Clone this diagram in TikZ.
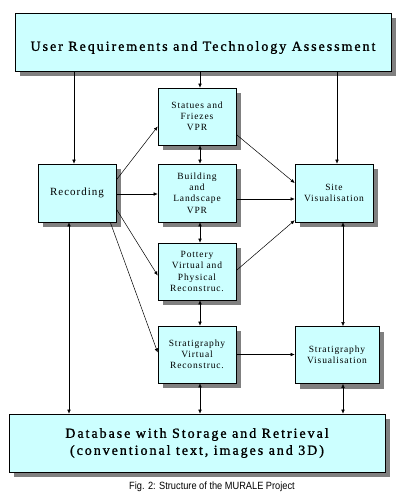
\documentclass[tikz,border=0pt]{standalone}
\usepackage{fontspec}
\setmainfont{Liberation Serif}
\newfontfamily\boxfont[LetterSpace=9]{Liberation Serif}
\newfontfamily\titlefont[LetterSpace=14, FakeBold=1.2]{Liberation Serif}
\newfontfamily\capfont{Liberation Sans}
\usepackage{tikz}
\usetikzlibrary{arrows.meta, positioning, calc, shadows}
\definecolor{boxcyan}{RGB}{204,255,255}
\definecolor{shadowgray}{RGB}{128,128,128}

\begin{document}
\begin{tikzpicture}[x=1pt, y=-1pt,
    box/.style={draw, fill=boxcyan, line width=0.6pt, align=center,
      drop shadow={shadow xshift=5pt, shadow yshift=-5pt, fill=shadowgray, opacity=1},
      font=\boxfont\fontsize{9.5}{11.2}\selectfont, inner sep=1pt},
    smallbox/.style={box, minimum width=78pt, minimum height=57pt},
    bigbox/.style={box, minimum width=376pt, minimum height=58pt,
      font=\titlefont\fontsize{14}{17}\selectfont},
    arr/.style={-{Latex[length=4pt,width=3.5pt]}, line width=0.5pt},
    both/.style={{Latex[length=4pt,width=3.5pt]}-{Latex[length=4pt,width=3.5pt]}, line width=0.5pt}]
  \useasboundingbox (0,0) rectangle (400,501);
  \node[bigbox] (req) at (203,42) {\raisebox{-4pt}[\height][0pt]{User Requirements and Technology Assessment}};
  \node[smallbox] (statues) at (197,116.5) {Statues and\\Friezes\\VPR};
  \node[smallbox, minimum height=58pt, font=\boxfont\fontsize{11}{13}\selectfont] (rec) at (77,193) {\raisebox{3pt}{Recording}};
  \node[smallbox, minimum height=58pt] (build) at (197,193) {Building\\and\\Landscape\\VPR};
  \node[smallbox, minimum height=58pt] (site) at (334,193) {Site\\Visualisation};
  \node[smallbox] (pot) at (197,271.5) {Pottery\\Virtual and\\Physical\\Reconstruc.};
  \node[smallbox] (strat) at (197,354.5) {Stratigraphy\\Virtual\\Reconstruc.};
  \node[smallbox, minimum width=84pt] (stratvis) at (337,355) {Stratigraphy\\Visualisation};
  \node[bigbox] (db) at (197,443)
    {Database with Storage and Retrieval\\(conventional text, images and 3D)};
  \node[font=\capfont\fontsize{10.5}{12}\selectfont, xscale=0.88] (cap) at (212,487)
    {Fig. 2: Structure of the MURALE Project};

  % feeds from the requirements
  \draw[arr] ([xshift=-3pt]req.south -| rec.north) -- ([xshift=-3pt]rec.north);
  \draw[arr] ([xshift=3pt]req.south -| statues.north) -- ([xshift=3pt]statues.north);
  \draw[arr] ([xshift=3pt]req.south -| site.north) -- ([xshift=3pt]site.north);

  % central column
  \foreach \a/\b in {statues/build, build/pot, pot/strat, strat/db}
    \draw[both] ([xshift=3pt]\a.south) -- ([xshift=3pt]\a.south |- \b.north);
  \draw[both] ([xshift=6pt]stratvis.north |- site.south) -- ([xshift=6pt]stratvis.north);
  \draw[both] ([xshift=6pt]stratvis.south) -- ([xshift=6pt]stratvis.south |- db.north);
  \draw[both] ([xshift=-8pt]rec.south) -- ([xshift=-8pt]rec.south |- db.north);

  % from recording
  \draw[arr] ([yshift=13pt]rec.east) -- ([yshift=-10pt]statues.west);
  \draw[arr] ([yshift=-1pt]rec.east) -- ([yshift=-1pt]build.west);
  \draw[arr] ([yshift=-16pt]rec.east) -- ([yshift=-4pt]pot.west);
  \draw[arr] ([xshift=-6pt]rec.south east) -- ([yshift=2pt]strat.west);

  % to site visualisation
  \draw[arr] ([yshift=-18pt]statues.east) -- ([yshift=10pt]site.west);
  \draw[arr] ([yshift=-6pt]build.east) -- ([yshift=-6pt]site.west);
  \draw[arr] ([yshift=1pt]pot.east) -- ([yshift=2pt]site.south west);
  \draw[arr] (strat.east) -- (strat.east -| stratvis.west);
\end{tikzpicture}
\end{document}
